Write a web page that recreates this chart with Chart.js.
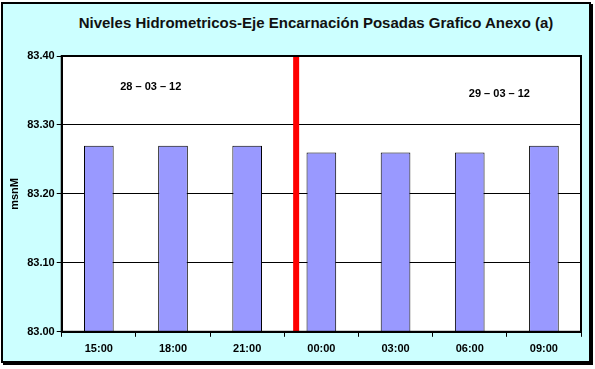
<!DOCTYPE html>
<html lang="es">
<head>
    <meta charset="UTF-8">
    <title>Niveles Hidrometricos-Eje Encarnación Posadas</title>
    <script src="https://cdn.jsdelivr.net/npm/chart.js"></script>
    <style>
        html, body { margin: 0; padding: 0; background: #fff; overflow: hidden; }
        #frame {
            position: absolute; left: 1px; top: 2px;
            width: 586px; height: 357px;
            border: 2px solid #000;
            box-shadow: 2px 2px 0 #000;
            background: #ccffff;
        }
        #titulo {
            position: absolute; left: 38px; top: 14px; width: 556px;
            text-align: center;
            font: bold 15px 'Liberation Sans', Arial, sans-serif;
            line-height: 18px;
            color: #111;
        }
        #wrap { position: absolute; left: 0; top: 0; width: 595px; height: 369px; }
    </style>
</head>
<body>
    <div id="frame"></div>
    <div id="titulo">Niveles Hidrometricos-Eje Encarnación Posadas Grafico Anexo (a)</div>
    <div id="wrap"><canvas id="barChart"></canvas></div>

    <script>
        // datos
        const horas = ["15:00", "18:00", "21:00", "00:00", "03:00", "06:00", "09:00"];
        const niveles = [83.27, 83.27, 83.27, 83.26, 83.26, 83.26, 83.27];
        const yTicks = [83.00, 83.10, 83.20, 83.30, 83.40];

        // fechas escritas dentro del grafico (posicion en unidades de los ejes)
        const fechas = ["28 \u2013 03 \u2013 12", "29 \u2013 03 \u2013 12"];
        const fechasX = [0.7, 5.4];
        const fechasY = [83.355, 83.345];

        // linea roja que separa los dias (posicion en el eje x)
        const cambioDia = 2.66;

        const fuente = "'Liberation Sans', Arial, sans-serif";

        const extras = {
            id: 'extras',
            afterDatasetsDraw(chart) {
                const { ctx, chartArea, scales } = chart;
                const x = scales.x, y = scales.y;
                ctx.save();
                // linea roja
                const px = x.getPixelForValue(cambioDia);
                ctx.strokeStyle = '#ff0000';
                ctx.lineWidth = 6;
                ctx.beginPath();
                ctx.moveTo(px, chartArea.top);
                ctx.lineTo(px, chartArea.bottom);
                ctx.stroke();
                // fechas
                ctx.fillStyle = '#000';
                ctx.font = "bold 11px " + fuente;
                ctx.textAlign = 'center';
                ctx.textBaseline = 'middle';
                fechas.forEach((f, i) => {
                    ctx.fillText(f, x.getPixelForValue(fechasX[i]), y.getPixelForValue(fechasY[i]));
                });
                // borde del area
                ctx.strokeStyle = '#000';
                ctx.lineWidth = 2;
                ctx.strokeRect(chartArea.left, chartArea.top, chartArea.right - chartArea.left, chartArea.bottom - chartArea.top);
                ctx.restore();
            }
        };

        const fondoArea = {
            id: 'fondoArea',
            beforeDraw(chart) {
                const { ctx, chartArea } = chart;
                ctx.save();
                ctx.fillStyle = '#fff';
                ctx.fillRect(chartArea.left, chartArea.top, chartArea.right - chartArea.left, chartArea.bottom - chartArea.top);
                ctx.restore();
            }
        };

        Chart.defaults.font.family = fuente;
        Chart.defaults.color = '#000';

        new Chart(document.getElementById('barChart'), {
            type: 'bar',
            data: {
                labels: horas,
                datasets: [{
                    label: 'Nivel',
                    data: niveles,
                    backgroundColor: '#9999ff',
                    borderColor: '#000',
                    borderWidth: 1,
                    barPercentage: 0.4,
                    categoryPercentage: 1.0
                }]
            },
            options: {
                responsive: true,
                maintainAspectRatio: false,
                animation: false,
                layout: { padding: { left: 8, right: 14, top: 56, bottom: 7 } },
                plugins: {
                    legend: { display: false },
                    tooltip: { enabled: false },
                    title: { display: false }
                },
                scales: {
                    x: {
                        offset: true,
                        grid: {
                            offset: true,
                            drawOnChartArea: false,
                            drawTicks: true,
                            tickLength: 5,
                            color: '#000'
                        },
                        border: { color: '#000', width: 2 },
                        ticks: { font: { size: 11, weight: 'bold' }, padding: 6 }
                    },
                    y: {
                        min: 83.0,
                        max: 83.4,
                        afterBuildTicks: axis => { axis.ticks = yTicks.map(v => ({ value: v })); },
                        grid: { color: '#000', tickLength: 5, lineWidth: 1 },
                        border: { color: '#000', width: 2 },
                        ticks: {
                            font: { size: 11, weight: 'bold' },
                            padding: 2,
                            callback: v => Number(v).toFixed(2)
                        },
                        title: {
                            display: true,
                            text: 'msnM',
                            font: { size: 11, weight: 'bold' },
                            padding: { top: 0, bottom: 4 }
                        }
                    }
                }
            },
            plugins: [fondoArea, extras]
        });
    </script>
</body>
</html>
